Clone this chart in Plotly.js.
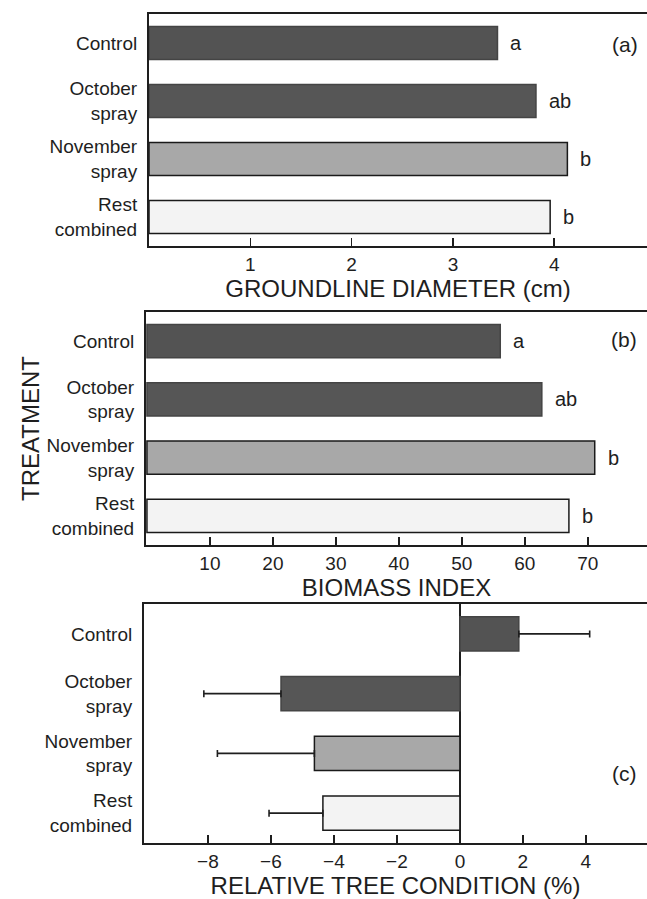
<!DOCTYPE html>
<html>
<head>
<meta charset="utf-8">
<script src="https://cdn.plot.ly/plotly-3.0.1.min.js"></script>
<style>html,body{margin:0;padding:0;background:#fff;}#chart{width:647px;height:899px;}</style>
</head>
<body>
<div id="chart"></div>
<script>
// ---- data ----
const categories = ['Control', 'October<br>spray', 'November<br>spray', 'Rest<br>combined'];
const diameter = [3.44, 3.82, 4.13, 3.96];
const diameterLetters = ['a', 'ab', 'b', 'b'];
const biomass = [56.1, 62.7, 71.1, 67.0];
const biomassLetters = ['a', 'ab', 'b', 'b'];
const condition = [1.87, -5.68, -4.62, -4.35];
const conditionErr = [2.25, 2.45, 3.08, 1.71];
const panelLabels = ['(a)', '(b)', '(c)'];
const diameterTicks = [1, 2, 3, 4];
const biomassTicks = [10, 20, 30, 40, 50, 60, 70];
const conditionTicks = [-8, -6, -4, -2, 0, 2, 4];
const conditionTickText = ['\u22128', '\u22126', '\u22124', '\u22122', '0', '2', '4'];

// ---- styles ----
const FONT = 'Liberation Sans, Arial, Helvetica, sans-serif';
const INK = '#1e1e1e';
const barColors = ['#535353', '#565656', '#a8a8a8', '#f3f3f3'];
const barLines = ['#444444', '#444444', '#1a1a1a', '#1a1a1a'];

function barTrace(vals, xa, ya, extra) {
  return Object.assign({
    type: 'bar', orientation: 'h', x: vals, y: categories,
    xaxis: xa, yaxis: ya,
    marker: { color: barColors, line: { color: barLines, width: 1.5 } },
    hoverinfo: 'skip', showlegend: false
  }, extra || {});
}

const errPlus = condition.map((v, i) => v >= 0 ? conditionErr[i] : 0);
const errMinus = condition.map((v, i) => v < 0 ? conditionErr[i] : 0);

const data = [
  barTrace(diameter, 'x', 'y'),
  barTrace(biomass, 'x2', 'y2'),
  barTrace(condition, 'x3', 'y3', {
    error_x: { type: 'data', symmetric: false, array: errPlus, arrayminus: errMinus,
               color: INK, thickness: 1.6, width: 3.5 }
  })
];

function xax(domain, range, tickvals, ticktext, title, standoff) {
  const a = {
    domain: domain, range: range, tickmode: 'array', tickvals: tickvals,
    ticks: 'inside', ticklen: 8, tickwidth: 1.5, tickcolor: INK,
    showline: true, linecolor: INK, linewidth: 2, mirror: true,
    showgrid: false, zeroline: false, fixedrange: true,
    tickfont: { family: FONT, size: 19, color: INK },
    title: { text: title, font: { family: FONT, size: 24, color: INK }, standoff: standoff }
  };
  if (ticktext) a.ticktext = ticktext;
  return a;
}
function yax(domain, anchor, title) {
  return {
    domain: domain, anchor: anchor, type: 'category', autorange: 'reversed',
    ticks: '', showline: true, linecolor: INK, linewidth: 2, mirror: false,
    showgrid: false, zeroline: false, fixedrange: true, ticklabelstandoff: 6,
    tickfont: { family: FONT, size: 19, color: INK },
    title: { text: title || '', font: { family: FONT, size: 24, color: INK }, standoff: 0 }
  };
}

const xa1 = xax([149 / 647, 1], [0, 4.916], diameterTicks, null, 'GROUNDLINE DIAMETER (cm)', 6);
xa1.anchor = 'y';
const xa2 = xax([146 / 647, 1], [-0.15, 79.4], biomassTicks, null, 'BIOMASS INDEX', 3);
xa2.anchor = 'y2';
const xa3 = xax([144 / 647, 1], [-10.03, 5.94], conditionTicks, conditionTickText, 'RELATIVE TREE CONDITION (%)', 0);
xa3.anchor = 'y3';
xa3.zeroline = true; xa3.zerolinecolor = INK; xa3.zerolinewidth = 1.8;

const H = 899;
const layout = {
  width: 647, height: 899,
  margin: { l: 0, r: 0, t: 0, b: 0 },
  paper_bgcolor: '#ffffff', plot_bgcolor: '#ffffff',
  bargap: 0.43,
  font: { family: FONT, color: INK },
  xaxis: xa1, yaxis: yax([(H - 246) / H, (H - 14) / H], 'x'),
  xaxis2: xa2, yaxis2: yax([(H - 545) / H, (H - 312) / H], 'x2', 'TREATMENT'),
  xaxis3: xa3, yaxis3: yax([(H - 843) / H, (H - 604) / H], 'x3'),
  annotations: []
};

function addLetters(vals, letters, xr, yr) {
  vals.forEach((v, i) => {
    layout.annotations.push({
      x: v, y: categories[i], xref: xr, yref: yr, text: letters[i],
      xanchor: 'left', yanchor: 'middle', xshift: 11, showarrow: false,
      font: { family: FONT, size: 20, color: INK }
    });
  });
}
addLetters(diameter, diameterLetters, 'x', 'y');
addLetters(biomass, biomassLetters, 'x2', 'y2');

const labelPos = [
  { xref: 'x domain', yref: 'y domain', x: 0.985, y: 0.87 },
  { xref: 'x2 domain', yref: 'y2 domain', x: 0.985, y: 0.88 },
  { xref: 'x3 domain', yref: 'y3 domain', x: 0.985, y: 0.29 }
];
panelLabels.forEach((t, i) => {
  layout.annotations.push(Object.assign({
    text: t, showarrow: false, xanchor: 'right', yanchor: 'middle',
    font: { family: FONT, size: 21, color: INK }
  }, labelPos[i]));
});

Plotly.newPlot('chart', data, layout, { displayModeBar: false, staticPlot: true });
</script>
</body>
</html>
